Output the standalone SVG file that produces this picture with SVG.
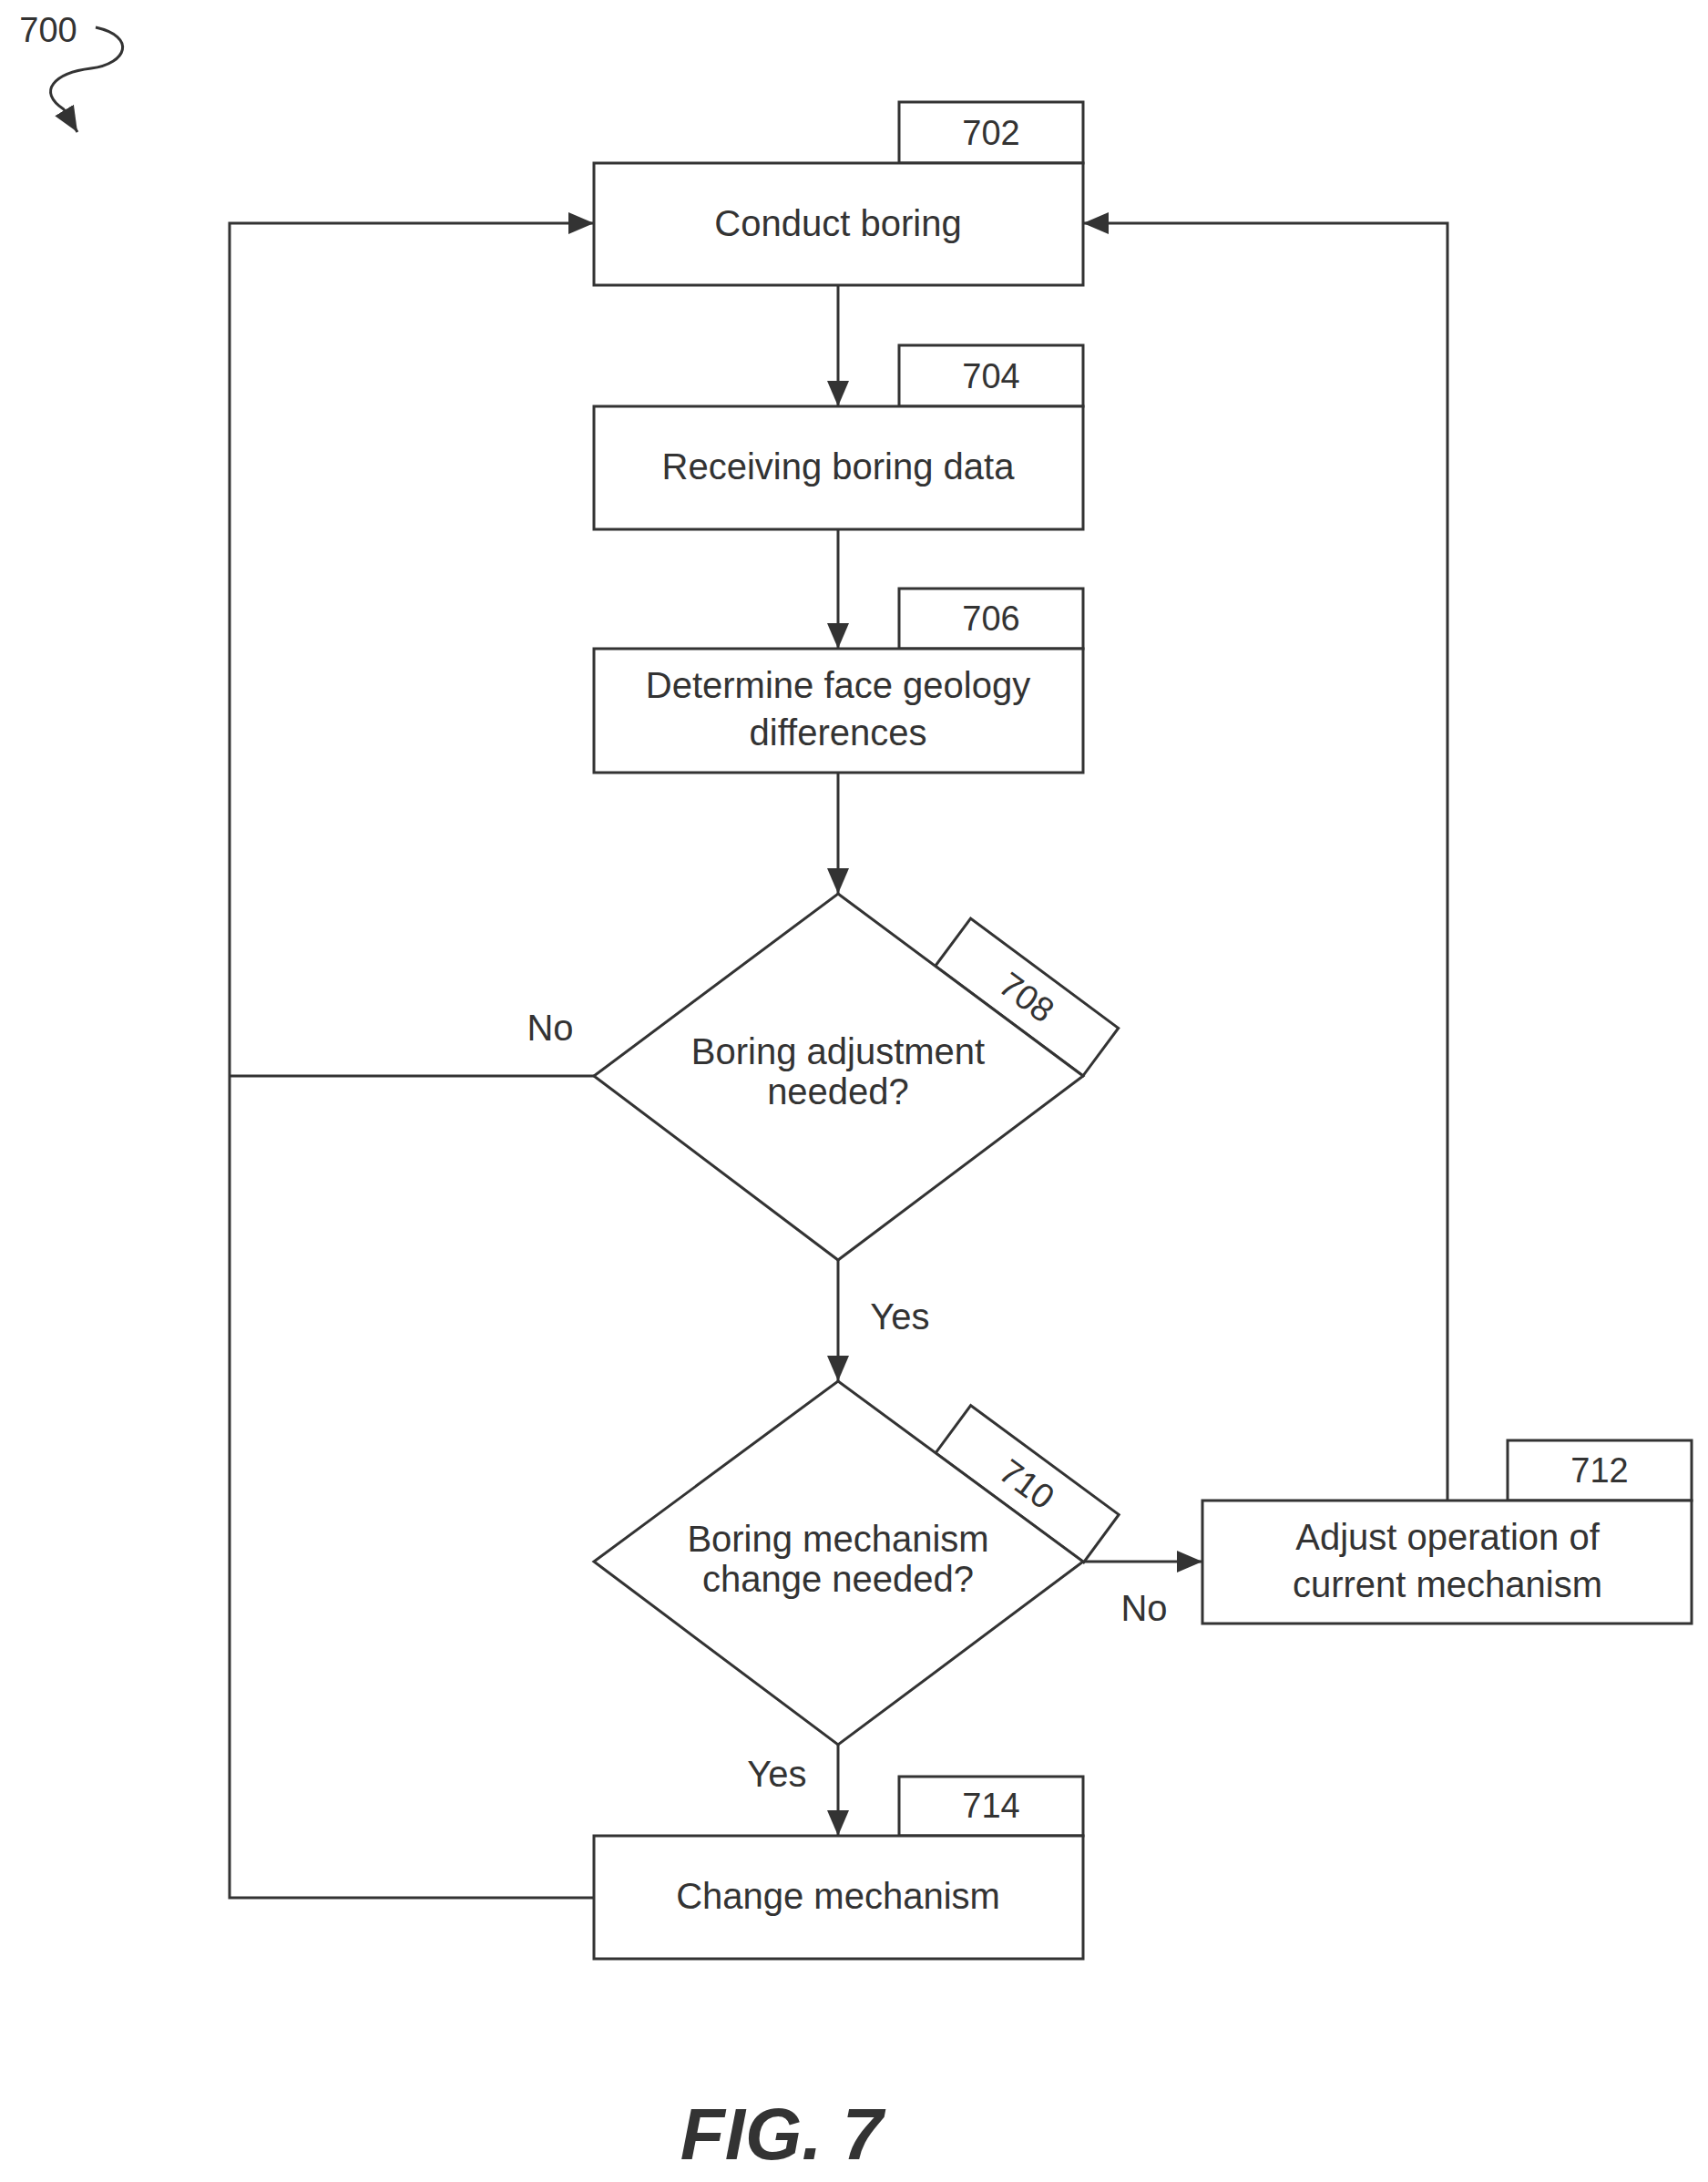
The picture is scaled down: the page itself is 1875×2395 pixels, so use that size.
<svg xmlns="http://www.w3.org/2000/svg" width="1875" height="2395" viewBox="0 0 1875 2395">
<style>
.b{fill:#fff;stroke:#333;stroke-width:3}
.l{fill:none;stroke:#333;stroke-width:3}
text{font-family:"Liberation Sans",Arial,sans-serif;font-size:40px;fill:#333;text-anchor:middle}
.n{font-size:38px}
</style>
<defs>
<marker id="a" markerWidth="12" markerHeight="12" refX="11" refY="6" orient="auto" markerUnits="userSpaceOnUse" viewBox="0 0 12 12">
<path d="M0,0 L12,6 L0,12 z" fill="#333" transform="scale(1)"/>
</marker>
<marker id="A" markerWidth="30" markerHeight="30" refX="28" refY="15" orient="auto" markerUnits="userSpaceOnUse">
<path d="M0,3 L28,15 L0,27 z" fill="#333"/>
</marker>
</defs>
<rect width="1875" height="2395" fill="#fff"/>
<g id="label700">
<text x="53" y="46" class="n" text-anchor="middle">700</text>
<path class="l" d="M105,30 C150,40 140,70 100,75 C60,80 40,100 70,120 L85,145" marker-end="url(#A)"/>
</g>
<g id="connectors">
<line class="l" x1="920" y1="313" x2="920" y2="446" marker-end="url(#A)"/>
<line class="l" x1="920" y1="581" x2="920" y2="712" marker-end="url(#A)"/>
<line class="l" x1="920" y1="848" x2="920" y2="981" marker-end="url(#A)"/>
<line class="l" x1="920" y1="1383" x2="920" y2="1516" marker-end="url(#A)"/>
<line class="l" x1="920" y1="1915" x2="920" y2="2015" marker-end="url(#A)"/>
<line class="l" x1="1189" y1="1714" x2="1320" y2="1714" marker-end="url(#A)"/>
<polyline class="l" points="1589,1647 1589,245 1189,245" marker-end="url(#A)"/>
<polyline class="l" points="652,1181 252,1181"/>
<polyline class="l" points="652,2083 252,2083 252,245 652,245" marker-end="url(#A)"/>
<text x="604" y="1142">No</text>
<text x="988" y="1459">Yes</text>
<text x="1256" y="1779">No</text>
<text x="853" y="1961">Yes</text>
</g>
<g id="n702">
<rect class="b" x="987" y="112" width="202" height="67"/><text class="n" x="1088" y="159">702</text>
<rect class="b" x="652" y="179" width="537" height="134"/><text x="920" y="259">Conduct boring</text>
</g>
<g id="n704">
<rect class="b" x="987" y="379" width="202" height="67"/><text class="n" x="1088" y="426">704</text>
<rect class="b" x="652" y="446" width="537" height="135"/><text x="920" y="526">Receiving boring data</text>
</g>
<g id="n706">
<rect class="b" x="987" y="646" width="202" height="66"/><text class="n" x="1088" y="692">706</text>
<rect class="b" x="652" y="712" width="537" height="136"/><text x="920" y="766">Determine face geology</text><text x="920" y="818">differences</text>
</g>
<g id="n708">
<g transform="translate(920,981) rotate(36.6)"><rect class="b" x="133" y="-65" width="202" height="65"/><text class="n" x="234" y="-19">708</text></g>
<polygon class="b" points="920,981 1189,1181 920,1383 652,1181"/>
<text x="920" y="1168">Boring adjustment</text><text x="920" y="1212">needed?</text>
</g>
<g id="n710">
<g transform="translate(920,1516) rotate(36.4)"><rect class="b" x="133" y="-65" width="202" height="65"/><text class="n" x="234" y="-19">710</text></g>
<polygon class="b" points="920,1516 1189,1714 920,1915 652,1714"/>
<text x="920" y="1703">Boring mechanism</text><text x="920" y="1747">change needed?</text>
</g>
<g id="n712">
<rect class="b" x="1655" y="1581" width="202" height="66"/><text class="n" x="1756" y="1627">712</text>
<rect class="b" x="1320" y="1647" width="537" height="135"/><text x="1589" y="1701">Adjust operation of</text><text x="1589" y="1753">current mechanism</text>
</g>
<g id="n714">
<rect class="b" x="987" y="1950" width="202" height="65"/><text class="n" x="1088" y="1995">714</text>
<rect class="b" x="652" y="2015" width="537" height="135"/><text x="920" y="2095">Change mechanism</text>
</g>
<text x="858" y="2370" style="font-size:80px;font-weight:bold;font-style:italic">FIG. 7</text>
</svg>
